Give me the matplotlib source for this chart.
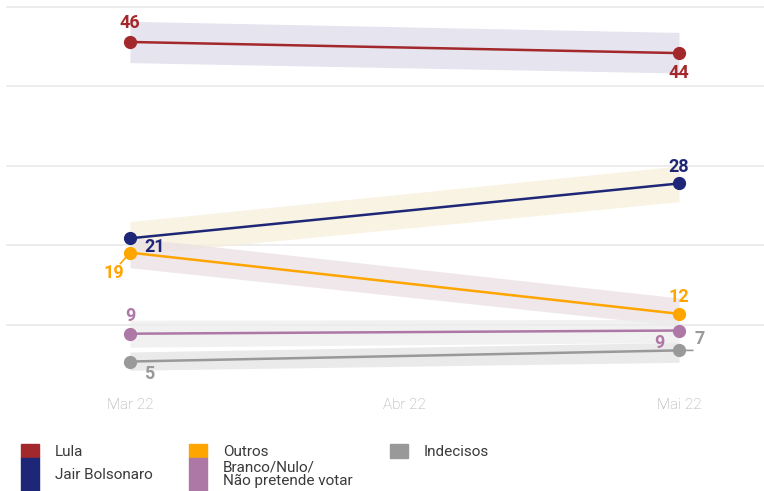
import matplotlib
matplotlib.use("Agg")
import matplotlib.pyplot as plt
from matplotlib.patches import Rectangle

plt.rcParams['font.family'] = ['Roboto', 'DejaVu Sans']

# data
months = ["Mar 22", "Abr 22", "Mai 22"]
x_pts = [0, 2]   # only Mar and Mai have polls

names = ["Lula", "Jair Bolsonaro", "Outros", "Branco/Nulo/\nNão pretende votar", "Indecisos"]
colors = ["#a3282c", "#1e2677", "#ffa500", "#ae78a6", "#999999"]
band_colors = ["#dddbea", "#f6f0da", "#ebe0e3", "#ededed", "#e4e4e4"]

lula = [45.6, 44.2]
bolsonaro = [20.9, 27.8]
outros = [19.1, 11.4]
branco = [8.9, 9.3]
indecisos = [5.4, 6.8]

lula_lo, lula_hi = [43.0, 41.7], [48.2, 46.8]
bolso_lo, bolso_hi = [18.8, 25.5], [23.0, 30.0]
outros_lo, outros_hi = [17.2, 9.9], [21.0, 13.4]
branco_lo, branco_hi = [7.2, 7.8], [10.6, 10.7]
indec_lo, indec_hi = [4.3, 5.3], [6.6, 7.8]

labels = [["46", "44"], ["21", "28"], ["19", "12"], ["9", "9"], ["5", "7"]]

series = [lula, bolsonaro, outros, branco, indecisos]
lows = [lula_lo, bolso_lo, outros_lo, branco_lo, indec_lo]
highs = [lula_hi, bolso_hi, outros_hi, branco_hi, indec_hi]

# label offsets in points (Mar, Mai)
offsets = [[(0, 14), (0, -14)],
           [(18, -6), (0, 12)],
           [(-12, -15), (0, 12)],
           [(0, 13), (-14, -9)],
           [(14, -9), (15, 8)]]
# leader lines: (series, point) -> start offset in points
leaders = {(2, 0): (-7, -8), (4, 1): (10, 0)}

fig = plt.figure(figsize=(7.64, 4.91), dpi=100)
ax = fig.add_axes([6 / 764, (491 - 396.5) / 491, 758 / 764, 396.5 / 491])
ax.set_xlim(-0.4517, 2.3097)
ax.set_ylim(1.0, 50.88)

for spine in ax.spines.values():
    spine.set_visible(False)
ax.set_yticks([])
for g in [10, 20, 30, 40, 50]:
    ax.axhline(g, color="#ececec", lw=1.4, zorder=0)

ax.set_xticks([0, 1, 2])
ax.set_xticklabels(months, color="#a6a6a6", fontsize=11, fontweight="light")
ax.tick_params(axis="x", length=0, pad=1)

for i, vals in enumerate(series):
    ax.fill_between(x_pts, lows[i], highs[i], color=band_colors[i], alpha=0.75, lw=0, zorder=1)

for i, vals in enumerate(series):
    ax.plot(x_pts, vals, color=colors[i], lw=1.8, marker="o", markersize=8.5, zorder=3)
    for j in range(2):
        dx, dy = offsets[i][j]
        ax.annotate(labels[i][j], xy=(x_pts[j], vals[j]), xytext=(dx, dy),
                    textcoords="offset points", ha="center", va="center",
                    color=colors[i], fontsize=13, fontweight="bold", zorder=4)
        if (i, j) in leaders:
            ax.annotate("", xy=(x_pts[j], vals[j]), xytext=leaders[(i, j)],
                        textcoords="offset points", zorder=2,
                        arrowprops=dict(arrowstyle="-", color=colors[i], lw=1.2,
                                        shrinkA=0, shrinkB=3))

# legend at the bottom
legend_cols = [(21, 55, [0, 1]), (189, 223, [2, 3]), (390, 424, [4])]
for sq_x, tx, idxs in legend_cols:
    y_top = 444
    for k, idx in enumerate(idxs):
        h = 14 if k == 0 else 33
        fig.patches.append(Rectangle((sq_x / 764, 1 - (y_top + h) / 491), 18 / 764, h / 491,
                                     transform=fig.transFigure, color=colors[idx]))
        y_top += h

fig.text(55 / 764, 1 - 451.5 / 491, names[0], fontsize=11, color="#3a3a3a", va="center")
fig.text(55 / 764, 1 - 475 / 491, names[1], fontsize=11, color="#3a3a3a", va="center")
fig.text(223 / 764, 1 - 451.5 / 491, names[2], fontsize=11, color="#3a3a3a", va="center")
fig.text(223 / 764, 1 - 474.5 / 491, names[3], fontsize=11, color="#3a3a3a", va="center",
         linespacing=0.95)
fig.text(424 / 764, 1 - 451.5 / 491, names[4], fontsize=11, color="#3a3a3a", va="center")

fig.savefig("out.png", dpi=100)
